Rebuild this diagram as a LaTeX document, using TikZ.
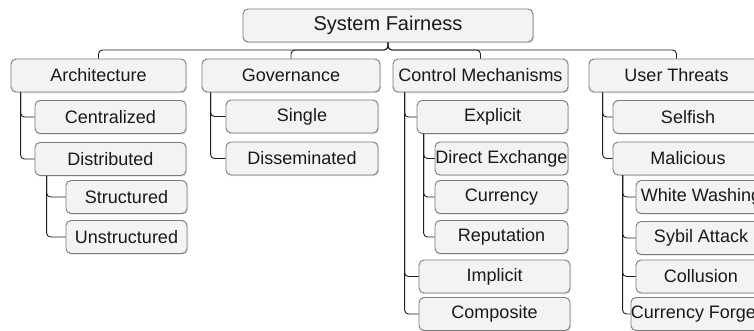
\documentclass[tikz,border=0pt]{standalone}
\usepackage{fontspec}
\setmainfont{Liberation Sans}
\usetikzlibrary{shadows}

\definecolor{boxfill}{HTML}{F3F3F3}
\definecolor{boxline}{HTML}{7A7A7A}
\definecolor{linkline}{HTML}{1E1E1E}

\tikzset{
  cat/.style={draw=boxline, fill=boxfill, line width=0.9pt, rounded corners=5pt,
    inner sep=0pt, minimum height=33pt, text=black!90,
    font=\fontsize{18}{20}\selectfont,
    drop shadow={opacity=0.25, shadow xshift=1pt, shadow yshift=-1.2pt}},
  link/.style={draw=linkline, line width=0.9pt, rounded corners=4pt},
}

\begin{document}
\begin{tikzpicture}[x=1pt, y=-1pt]
\useasboundingbox (0,0) rectangle (754,331);
\clip (0,0) rectangle (754,331);

% root
\node[cat, minimum width=290pt, font=\fontsize{20}{22}\selectfont] (root) at (388,25.5) {System Fairness};
\coordinate (bus) at (0,50);

% first level
\node[cat, minimum width=175pt] (arch) at (98.5,75.5) {Architecture};
\node[cat, minimum width=178pt] (gov)  at (291,75.5)  {Governance};
\node[cat, minimum width=175pt] (ctrl) at (480.5,75.5) {Control Mechanisms};
\node[cat, minimum width=175pt] (usr)  at (676.5,75.5) {User Threats};

\foreach \n in {arch,gov,ctrl,usr}
  \draw[link] (root.south) -- (root.south |- bus) -| (\n.north);

% Architecture
\node[cat, minimum width=151pt] (cent)   at (110.5,117) {Centralized};
\node[cat, minimum width=151pt] (dist)   at (110.5,159) {Distributed};
\node[cat, minimum width=121pt] (struct) at (126.5,197) {Structured};
\node[cat, minimum width=121pt] (unstr)  at (126.5,237) {Unstructured};
\foreach \n in {cent,dist}
  \draw[link] ([xshift=10pt]arch.south west) |- (\n.west);
\foreach \n in {struct,unstr}
  \draw[link] ([xshift=12pt]dist.south west) |- (\n.west);

% Governance
\node[cat, minimum width=152pt] (single) at (302,116.5) {Single};
\node[cat, minimum width=152pt] (dissem) at (302,158.5) {Disseminated};
\foreach \n in {single,dissem}
  \draw[link] ([xshift=9pt]gov.south west) |- (\n.west);

% Control Mechanisms
\node[cat, minimum width=151pt] (expl) at (492.5,117)   {Explicit};
\node[cat, minimum width=133pt] (dirx) at (501.5,158.5) {Direct Exchange};
\node[cat, minimum width=133pt] (curr) at (501.5,197)   {Currency};
\node[cat, minimum width=133pt] (rep)  at (501.5,237)   {Reputation};
\node[cat, minimum width=151pt] (impl) at (494.5,276.5) {Implicit};
\node[cat, minimum width=151pt] (comp) at (494.5,314)   {Composite};
\foreach \n in {expl,impl,comp}
  \draw[link] ([xshift=12pt]ctrl.south west) |- (\n.west);
\foreach \n in {dirx,curr,rep}
  \draw[link] ([xshift=7pt]expl.south west) |- (\n.west);

% User Threats
\node[cat, minimum width=150pt] (selfish) at (688,117)   {Selfish};
\node[cat, minimum width=150pt] (malic)   at (688,158.5) {Malicious};
\node[cat, minimum width=130pt] (ww)      at (701,197)   {White Washing};
\node[cat, minimum width=130pt] (sybil)   at (701,238)   {Sybil Attack};
\node[cat, minimum width=130pt] (coll)    at (701,276.5) {Collusion};
\node[cat, minimum width=130pt] (forge)   at (701,314)   {Currency Forgery};
\foreach \n in {selfish,malic}
  \draw[link] ([xshift=14pt]usr.south west) |- (\n.west);
\foreach \n in {ww,sybil,coll,forge}
  \draw[link] ([xshift=10pt]malic.south west) |- (\n.west);
\end{tikzpicture}
\end{document}
